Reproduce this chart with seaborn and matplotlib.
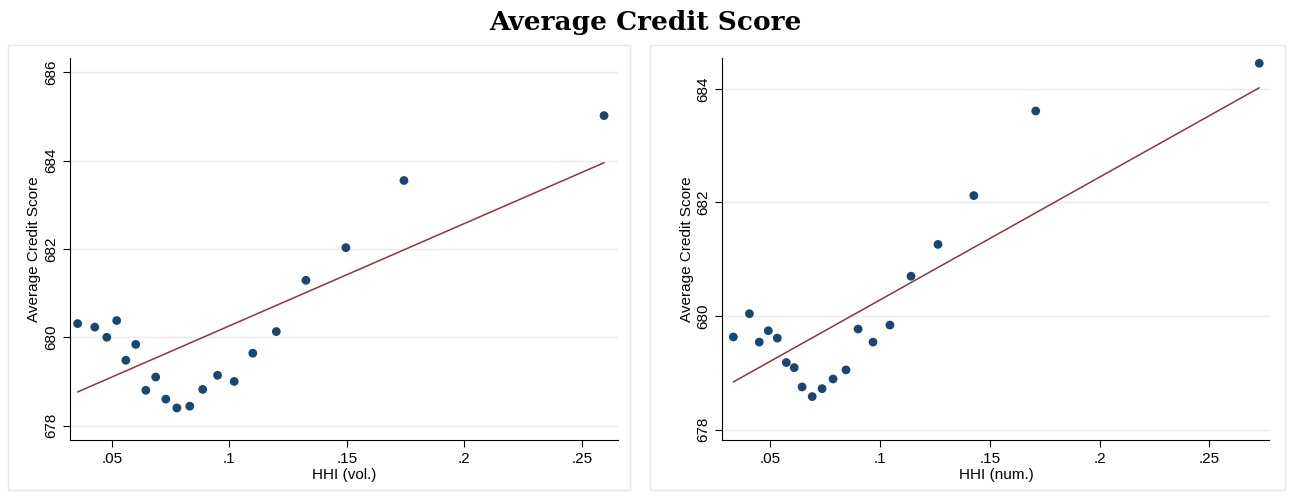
import numpy as np
import pandas as pd
import matplotlib.pyplot as plt
import matplotlib.patches as mpatches
import seaborn as sns

# binned scatter values
hhi_vol = [0.0355, 0.0428, 0.0479, 0.0521, 0.0560, 0.0602, 0.0645, 0.0687, 0.0730, 0.0777,
           0.0832, 0.0887, 0.0950, 0.1021, 0.1100, 0.1200, 0.1326, 0.1496, 0.1743, 0.2594]
score_vol = [680.31, 680.23, 680.00, 680.38, 679.48, 679.84, 678.80, 679.10, 678.60, 678.40,
             678.44, 678.82, 679.14, 679.00, 679.64, 680.13, 681.29, 682.03, 683.55, 685.02]
hhi_num = [0.0332, 0.0405, 0.0450, 0.0491, 0.0532, 0.0573, 0.0609, 0.0645, 0.0691, 0.0736,
           0.0786, 0.0845, 0.0900, 0.0968, 0.1045, 0.1141, 0.1264, 0.1427, 0.1709, 0.2727]
score_num = [679.63, 680.04, 679.54, 679.74, 679.61, 679.18, 679.09, 678.75, 678.58, 678.72,
             678.89, 679.05, 679.77, 679.54, 679.84, 680.70, 681.26, 682.12, 683.61, 684.45]
# linear fit (intercept, slope)
fit_vol = (677.94, 23.18)
fit_num = (678.12, 21.63)

sns.set_style("white")
plt.rcParams['font.family'] = ['Liberation Sans', 'DejaVu Sans']
plt.rcParams['text.color'] = 'black'
plt.rcParams['axes.labelcolor'] = 'black'
plt.rcParams['xtick.color'] = 'black'
plt.rcParams['ytick.color'] = 'black'

fig = plt.figure(figsize=(12.9, 4.93), dpi=100)
ax1 = fig.add_axes([0.054, 0.108, 0.425, 0.774])
ax2 = fig.add_axes([0.560, 0.108, 0.424, 0.774])

for x0, x1 in [(8, 630), (650, 1285)]:
    fig.patches.append(mpatches.Rectangle((x0 / 1290, 3 / 493), (x1 - x0) / 1290, 445 / 493,
                                          transform=fig.transFigure, fill=False,
                                          edgecolor='#e6e6e6', linewidth=1))

panels = [
    (ax1, hhi_vol, score_vol, fit_vol, 'HHI (vol.)', (0.0321, 0.2653), (677.68, 686.32), [678, 680, 682, 684, 686]),
    (ax2, hhi_num, score_num, fit_num, 'HHI (num.)', (0.0282, 0.2773), (677.82, 684.54), [678, 680, 682, 684]),
]
for ax, x, y, fit, xlabel, xlim, ylim, yticks in panels:
    df = pd.DataFrame({'x': x, 'y': y})
    sns.scatterplot(data=df, x='x', y='y', ax=ax, color='#1a476f', s=40, edgecolor='none')
    xs = np.array([min(x), max(x)])
    sns.lineplot(x=xs, y=fit[0] + fit[1] * xs, ax=ax, color='#90353b', linewidth=1.1)
    ax.set_xlim(*xlim)
    ax.set_ylim(*ylim)
    ax.set_xticks([0.05, 0.1, 0.15, 0.2, 0.25])
    ax.set_xticklabels(['.05', '.1', '.15', '.2', '.25'])
    ax.set_yticks(yticks)
    ax.set_yticklabels([str(t) for t in yticks], rotation=90, va='center')
    ax.grid(axis='y', color='#eaeaea', linewidth=1)
    ax.set_axisbelow(True)
    for s in ['top', 'right']:
        ax.spines[s].set_visible(False)
    for s in ['left', 'bottom']:
        ax.spines[s].set_color('black')
        ax.spines[s].set_linewidth(0.8)
    ax.tick_params(axis='both', direction='out', length=5, width=0.8, labelsize=11, bottom=True, left=True)
    ax.set_xlabel(xlabel, fontsize=11, labelpad=2)
    ax.set_ylabel('Average Credit Score', fontsize=11, labelpad=2)

fig.text(0.5, 0.955, 'Average Credit Score', ha='center', va='center',
         fontsize=19, fontweight='bold', family=['DejaVu Serif'])

plt.savefig('out.png', dpi=100)
